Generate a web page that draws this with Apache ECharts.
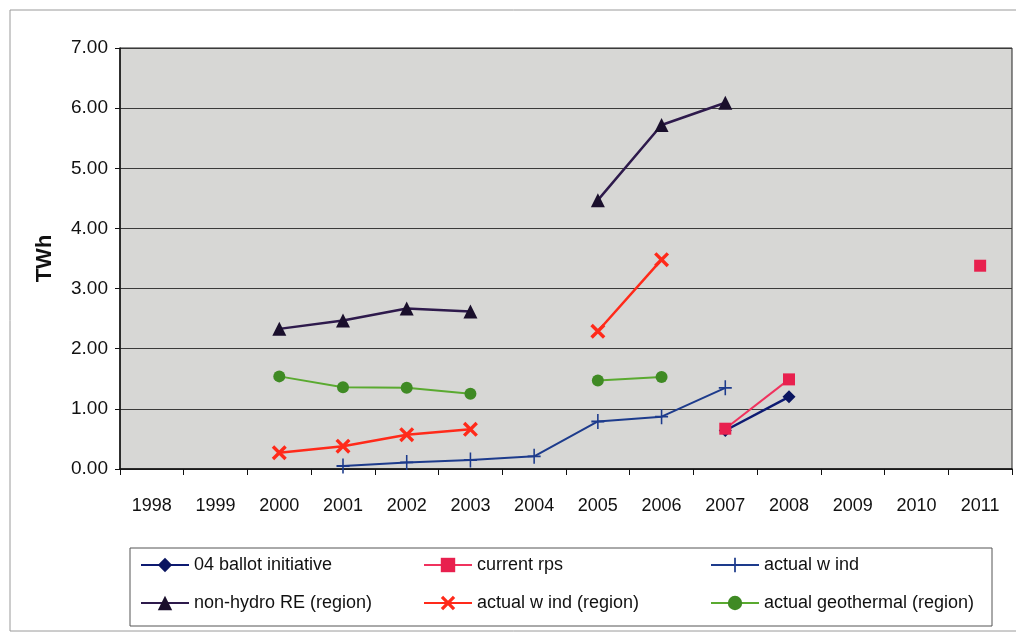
<!DOCTYPE html>
<html>
<head>
<meta charset="utf-8">
<script src="https://cdn.jsdelivr.net/npm/echarts@6/dist/echarts.min.js"></script>
<style>
  html, body { margin: 0; padding: 0; background: #ffffff; }
  #chart { width: 1016px; height: 636px; }
</style>
</head>
<body>
<div id="chart"></div>
<script>
// Years on the category axis
const years = ['1998','1999','2000','2001','2002','2003','2004','2005','2006','2007','2008','2009','2010','2011'];

// Values in TWh, one entry per year (null = no value that year)
const ballotInitiative = [null, null, null, null, null, null, null, null, null, 0.64, 1.20, null, null, null];
const currentRps       = [null, null, null, null, null, null, null, null, null, 0.67, 1.49, null, null, 3.38];
const actualWind       = [null, null, null, 0.05, 0.11, 0.15, 0.21, 0.79, 0.87, 1.35, null, null, null, null];
const nonHydroRegion   = [null, null, 2.33, 2.47, 2.67, 2.62, null, 4.47, 5.72, 6.09, null, null, null, null];
const windRegion       = [null, null, 0.27, 0.38, 0.57, 0.66, null, 2.29, 3.48, null, null, null, null, null];
const geothermalRegion = [null, null, 1.54, 1.36, 1.35, 1.25, null, 1.47, 1.53, null, null, null, null, null];

// Y axis ticks
const yMin = 0, yMax = 7, yStep = 1;

const FONT = '"Liberation Sans", Arial, sans-serif';

// Marker shapes
const PLUS = 'path://M4.4,0 H5.6 V4.4 H10 V5.6 H5.6 V10 H4.4 V5.6 H0 V4.4 H4.4 Z';
const CROSS = 'path://M0,1.6 L1.6,0 L10,8.4 L8.4,10 Z M8.4,0 L10,1.6 L1.6,10 L0,8.4 Z';

function lineSeries(name, data, opts) {
  return {
    name: name,
    type: 'line',
    data: data,
    connectNulls: false,
    symbol: opts.symbol,
    symbolSize: opts.size,
    showSymbol: true,
    showAllSymbol: true,
    lineStyle: { color: opts.line, width: opts.width || 2 },
    itemStyle: { color: opts.marker, borderWidth: 0 },
    emphasis: { disabled: true },
    z: opts.z || 2
  };
}

const series = [
  lineSeries('04 ballot initiative', ballotInitiative, { symbol: 'diamond', size: 13, line: '#0d1a72', marker: '#0a1560', width: 2.5 }),
  lineSeries('current rps', currentRps, { symbol: 'rect', size: 12, line: '#f0325e', marker: '#e8204e', width: 2 }),
  lineSeries('actual w ind', actualWind, { symbol: PLUS, size: [13, 15], line: '#1d3b8c', marker: '#1d3b8c', width: 2 }),
  lineSeries('non-hydro RE (region)', nonHydroRegion, { symbol: 'triangle', size: 14, line: '#2e1a4c', marker: '#1a0f2c', width: 2.5 }),
  lineSeries('actual w ind (region)', windRegion, { symbol: CROSS, size: 15, line: '#ff2a1a', marker: '#ff2a1a', width: 2.5 }),
  lineSeries('actual geothermal (region)', geothermalRegion, { symbol: 'circle', size: 12, line: '#5aaa30', marker: '#3f8a24', width: 2 })
];

// One legend block per entry, laid out in a 3 x 2 table
const legendCols = [140, 423, 710];
const legendRows = [556, 594];
const legends = series.map(function (s, i) {
  return {
    data: [s.name],
    left: legendCols[i % 3],
    top: legendRows[Math.floor(i / 3)],
    padding: 0,
    itemWidth: 48,
    itemHeight: 18,
    itemGap: 0,
    selectedMode: false,
    textStyle: { fontFamily: FONT, fontSize: 18, color: '#111' }
  };
});

const chart = echarts.init(document.getElementById('chart'), null, { renderer: 'canvas' });
chart.setOption({
  animation: false,
  backgroundColor: '#ffffff',
  textStyle: { fontFamily: FONT },
  grid: {
    left: 120, right: 4, top: 48, bottom: 167,
    show: true,
    backgroundColor: '#d7d7d5',
    borderColor: '#222',
    borderWidth: 1
  },
  legend: legends,
  graphic: [
    {
      type: 'rect', silent: true, z: -10,
      shape: { x: 10, y: 10, width: 1030, height: 621 },
      style: { fill: 'none', stroke: '#9a9a9a', lineWidth: 1 }
    },
    {
      type: 'rect', silent: true,
      shape: { x: 130, y: 548, width: 862, height: 78 },
      style: { fill: 'none', stroke: '#555', lineWidth: 1 }
    }
  ],
  xAxis: {
    type: 'category',
    data: years,
    boundaryGap: true,
    axisLine: { show: true, lineStyle: { color: '#111', width: 1.5 } },
    axisTick: { show: true, length: 6, inside: false, lineStyle: { color: '#111' } },
    axisLabel: { fontFamily: FONT, fontSize: 18, color: '#111', margin: 28, interval: 0 },
    splitLine: { show: false }
  },
  yAxis: {
    type: 'value',
    min: yMin, max: yMax, interval: yStep,
    name: 'TWh',
    nameLocation: 'middle',
    nameRotate: 90,
    nameGap: 64,
    nameTextStyle: { fontFamily: FONT, fontSize: 22, fontWeight: 'bold', color: '#111' },
    axisLine: { show: true, lineStyle: { color: '#111', width: 1.5 } },
    axisTick: { show: true, length: 5, lineStyle: { color: '#111' } },
    axisLabel: {
      fontFamily: FONT, fontSize: 19, color: '#111', margin: 12,
      formatter: function (v) { return v.toFixed(2); }
    },
    splitLine: { show: true, lineStyle: { color: '#3a3a3a', width: 1 } }
  },
  series: series
});
</script>
</body>
</html>
